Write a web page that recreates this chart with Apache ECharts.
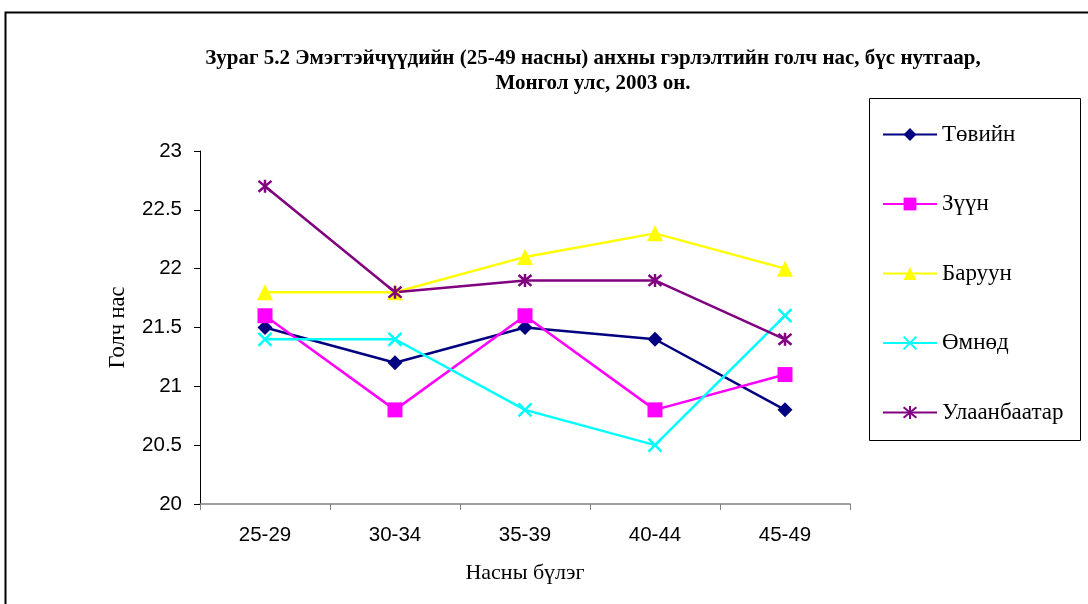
<!DOCTYPE html>
<html>
<head>
<meta charset="utf-8">
<script src="https://cdn.jsdelivr.net/npm/echarts@6/dist/echarts.min.js"></script>
<style>
  html, body { margin: 0; padding: 0; background: #fff; }
  #chart { width: 1088px; height: 604px; }
</style>
</head>
<body>
<div id="chart"></div>
<script>
// Age groups (x axis)
const ageGroups = ['25-29', '30-34', '35-39', '40-44', '45-49'];

// Median age at first marriage by region
const tovyn       = [21.5, 21.2, 21.5, 21.4, 20.8];
const zuun        = [21.6, 20.8, 21.6, 20.8, 21.1];
const baruun      = [21.8, 21.8, 22.1, 22.3, 22.0];
const omnod       = [21.4, 21.4, 20.8, 20.5, 21.6];
const ulaanbaatar = [22.7, 21.8, 21.9, 21.9, 21.4];

// Y axis range
const yMin = 20, yMax = 23, yStep = 0.5;

const serif = '"Liberation Serif", "DejaVu Serif", serif';
const sans = '"Liberation Sans", Arial, sans-serif';

const crossPath = 'path://M0,0 L10,10 M10,0 L0,10';
const starPath = 'path://M0,0 L10,10 M10,0 L0,10 M5,-1 L5,11';

function makeSeries(name, data, color, symbol, size, stroked) {
  return {
    name: name,
    type: 'line',
    data: data,
    symbol: symbol,
    symbolSize: size,
    showAllSymbol: true,
    lineStyle: { color: color, width: 2.5 },
    itemStyle: stroked
      ? { color: color, borderColor: color, borderWidth: 2.5 }
      : { color: color },
    emphasis: { disabled: true },
    animation: false
  };
}

const chart = echarts.init(document.getElementById('chart'));
chart.setOption({
  backgroundColor: '#fff',
  animation: false,
  title: {
    text: 'Зураг 5.2 Эмэгтэйчүүдийн (25-49 насны) анхны гэрлэлтийн голч нас, бүс нутгаар,\nМонгол улс, 2003 он.',
    left: 588,
    top: 41,
    textAlign: 'center',
    textStyle: {
      fontFamily: serif,
      fontSize: 21,
      fontWeight: 'bold',
      color: '#000',
      lineHeight: 25
    }
  },
  graphic: [
    {
      type: 'rect',
      shape: { x: 5.5, y: 12.5, width: 1100, height: 620 },
      style: { fill: 'none', stroke: '#000', lineWidth: 2 },
      silent: true
    },
    {
      type: 'rect',
      shape: { x: 869.5, y: 98.5, width: 211, height: 342 },
      style: { fill: '#fff', stroke: '#000', lineWidth: 1 },
      silent: true,
      z: -1
    }
  ],
  legend: {
    orient: 'vertical',
    left: 882,
    top: 123,
    padding: 0,
    itemWidth: 54,
    itemHeight: 16,
    itemGap: 46.5,
    textStyle: { fontFamily: serif, fontSize: 23, color: '#000' },
    data: ['Төвийн', 'Зүүн', 'Баруун', 'Өмнөд', 'Улаанбаатар']
  },
  grid: { left: 200, right: 238, top: 151, bottom: 100 },
  xAxis: {
    type: 'category',
    data: ageGroups,
    boundaryGap: true,
    name: 'Насны бүлэг',
    nameLocation: 'middle',
    nameGap: 58,
    nameTextStyle: { fontFamily: serif, fontSize: 22, color: '#000' },
    axisLine: { lineStyle: { color: '#808080', width: 1.5 } },
    axisTick: { show: true, alignWithLabel: false, length: 6, lineStyle: { color: '#808080' } },
    axisLabel: { fontFamily: sans, fontSize: 20.5, color: '#000', margin: 21 },
    splitLine: { show: false }
  },
  yAxis: {
    type: 'value',
    min: yMin,
    max: yMax,
    interval: yStep,
    name: 'Голч нас',
    nameLocation: 'middle',
    nameGap: 70,
    nameRotate: 90,
    nameTextStyle: { fontFamily: serif, fontSize: 22.5, color: '#000' },
    axisLine: { show: true, lineStyle: { color: '#000', width: 1 } },
    axisTick: { show: true, length: 6, lineStyle: { color: '#000' } },
    axisLabel: { fontFamily: sans, fontSize: 20.5, color: '#000', margin: 18 },
    splitLine: { show: false }
  },
  series: [
    makeSeries('Төвийн', tovyn, '#000080', 'diamond', 15, false),
    makeSeries('Зүүн', zuun, '#FF00FF', 'rect', 15, false),
    makeSeries('Баруун', baruun, '#FFFF00', 'triangle', 16, false),
    makeSeries('Өмнөд', omnod, '#00FFFF', crossPath, 13, true),
    makeSeries('Улаанбаатар', ulaanbaatar, '#800080', starPath, 13, true)
  ]
});
</script>
</body>
</html>
